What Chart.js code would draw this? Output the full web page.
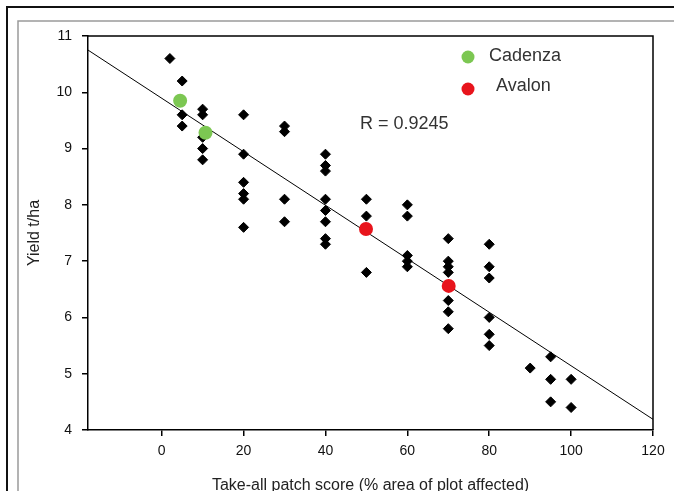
<!DOCTYPE html>
<html>
<head>
<meta charset="utf-8">
<script src="https://cdn.jsdelivr.net/npm/chart.js@4.4.1/dist/chart.umd.min.js"></script>
<style>
  html, body { margin: 0; padding: 0; background: #fff; }
  canvas { display: block; }
</style>
</head>
<body>
<canvas id="c" width="674" height="491"></canvas>
<script>
// ---- data ----
const plotX = [2, 5, 5, 5, 10, 10, 10, 10, 10, 20, 20, 20, 20, 20, 20, 30, 30, 30, 30,
  40, 40, 40, 40, 40, 40, 40, 40, 50, 50, 50, 60, 60, 60, 60, 60,
  70, 70, 70, 70, 70, 70, 70, 80, 80, 80, 80, 80, 80, 90, 95, 95, 95, 100, 100];
const plotY = [10.6, 10.2, 9.6, 9.4, 9.7, 9.6, 9.2, 9.0, 8.8, 9.6, 8.9, 8.4, 8.2, 8.1, 7.6, 9.4, 9.3, 8.1, 7.7,
  8.9, 8.7, 8.6, 8.1, 7.9, 7.7, 7.4, 7.3, 8.1, 7.8, 6.8, 8.0, 7.8, 7.1, 7.0, 6.9,
  7.4, 7.0, 6.9, 6.8, 6.3, 6.1, 5.8, 7.3, 6.9, 6.7, 6.0, 5.7, 5.5, 5.1, 5.3, 4.9, 4.5, 4.9, 4.4];
const cadenzaX = [4.5, 10.7];
const cadenzaY = [9.85, 9.28];
const avalonX = [49.9, 70.1];
const avalonY = [7.57, 6.56];
const fitX = [-18, 120];
const fitY = [10.75, 4.19];
const xTicks = [0, 20, 40, 60, 80, 100, 120];
const yTicks = [4, 5, 6, 7, 8, 9, 10, 11];
const seriesNames = ['Cadenza', 'Avalon'];
const rText = 'R = 0.9245';
const xTitle = 'Take-all patch score (% area of plot affected)';
const yTitle = 'Yield t/ha';

const GREEN = '#7cc752';
const RED = '#e8141c';
const FONT = '"Liberation Sans", Arial, sans-serif';

const toPts = (xs, ys) => xs.map((x, i) => ({ x: x, y: ys[i] }));

const framePlugin = {
  id: 'frame',
  beforeDraw(chart) {
    const ctx = chart.ctx;
    ctx.save();
    ctx.fillStyle = '#fff';
    ctx.fillRect(0, 0, chart.width, chart.height);
    ctx.strokeStyle = '#111';
    ctx.lineWidth = 2;
    ctx.beginPath();
    ctx.moveTo(7, chart.height); ctx.lineTo(7, 7); ctx.lineTo(chart.width, 7);
    ctx.stroke();
    ctx.strokeStyle = '#9a9a9a';
    ctx.lineWidth = 1.5;
    ctx.beginPath();
    ctx.moveTo(18, chart.height); ctx.lineTo(18, 21); ctx.lineTo(chart.width, 21);
    ctx.stroke();
    ctx.restore();
  },
  afterDraw(chart) {
    const ctx = chart.ctx;
    const a = chart.chartArea;
    ctx.save();
    ctx.strokeStyle = '#000';
    ctx.lineWidth = 1.5;
    ctx.beginPath();
    ctx.moveTo(a.left, a.top); ctx.lineTo(a.right, a.top); ctx.lineTo(a.right, a.bottom);
    ctx.stroke();
    // legend
    ctx.textBaseline = 'middle';
    ctx.textAlign = 'left';
    ctx.font = '18px ' + FONT;
    ctx.fillStyle = GREEN;
    ctx.beginPath(); ctx.arc(468, 57, 6.5, 0, Math.PI * 2); ctx.fill();
    ctx.fillStyle = RED;
    ctx.beginPath(); ctx.arc(468, 89, 6.5, 0, Math.PI * 2); ctx.fill();
    ctx.fillStyle = '#333';
    ctx.fillText(seriesNames[0], 489, 56);
    ctx.fillText(seriesNames[1], 496, 86);
    ctx.fillText(rText, 360, 124);
    ctx.restore();
  }
};

const axisCommon = {
  type: 'linear',
  grid: { display: true, drawOnChartArea: false, drawTicks: true, tickLength: 6, color: '#000', lineWidth: 1.5 },
  border: { display: true, color: '#000', width: 1.5 },
};

new Chart(document.getElementById('c'), {
  type: 'scatter',
  data: {
    datasets: [
      { label: seriesNames[0], data: toPts(cadenzaX, cadenzaY), pointStyle: 'circle', pointRadius: 7,
        backgroundColor: GREEN, borderColor: GREEN, borderWidth: 0 },
      { label: seriesNames[1], data: toPts(avalonX, avalonY), pointStyle: 'circle', pointRadius: 7,
        backgroundColor: RED, borderColor: RED, borderWidth: 0 },
      { label: 'plots', data: toPts(plotX, plotY), pointStyle: 'rectRot', pointRadius: 5,
        backgroundColor: '#000', borderColor: '#000', borderWidth: 1 },
      { label: 'fit', data: toPts(fitX, fitY), showLine: true, pointRadius: 0,
        borderColor: '#000', borderWidth: 1, fill: false }
    ]
  },
  options: {
    responsive: false,
    animation: false,
    events: [],
    layout: { padding: { top: 36, right: 21, left: 0, bottom: 0 } },
    plugins: { legend: { display: false }, tooltip: { enabled: false } },
    scales: {
      x: Object.assign({}, axisCommon, {
        min: -18, max: 120,
        afterBuildTicks(s) { s.ticks = xTicks.map(v => ({ value: v })); },
        afterFit(s) { s.height = 61; },
        ticks: { color: '#111', font: { size: 14, family: FONT }, padding: 7, maxRotation: 0, autoSkip: false },
        title: { display: true, text: xTitle, color: '#222', font: { size: 16, family: FONT }, padding: { top: 0, bottom: -4 } }
      }),
      y: Object.assign({}, axisCommon, {
        min: 4, max: 11,
        afterBuildTicks(s) { s.ticks = yTicks.map(v => ({ value: v })); },
        afterFit(s) { s.width = 88; },
        ticks: { color: '#111', font: { size: 14, family: FONT }, padding: 10, autoSkip: false },
        title: { display: true, text: yTitle, color: '#222', font: { size: 16, family: FONT }, padding: { top: 25, bottom: 0 } }
      })
    }
  },
  plugins: [framePlugin]
});
</script>
</body>
</html>
